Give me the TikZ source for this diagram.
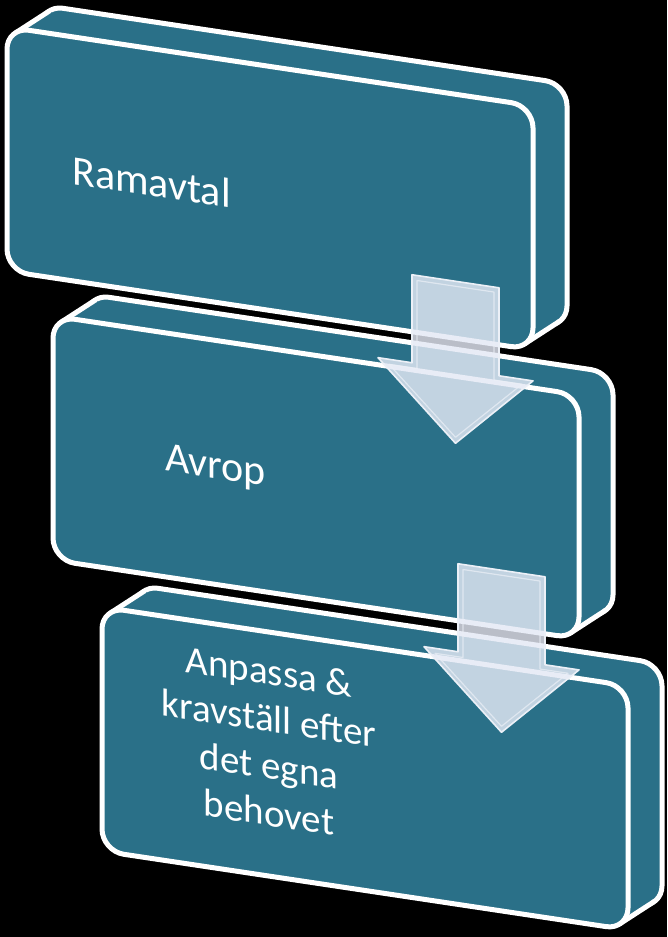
\documentclass[tikz,border=0pt]{standalone}
\usepackage{fontspec}
\setmainfont{Carlito}
\usetikzlibrary{positioning,calc,backgrounds}

\definecolor{stepteal}{RGB}{42,112,136}
\definecolor{arrowfill}{RGB}{228,233,245}
\definecolor{arrowline}{RGB}{236,240,247}

\begin{document}
\begin{tikzpicture}[
    x=1pt, y=1pt,
    face/.style={rectangle, draw=white, line width=5pt, rounded corners=22pt, fill=stepteal, minimum width=526pt, minimum height=244pt, inner sep=0pt, outer sep=0pt, anchor=north west},
    depth/.style={fill=stepteal},
    edge/.style={draw=white, line width=5pt, line cap=round},
    boxtext/.style={text=white, inner sep=0pt, align=center, font=\fontsize{42}{50}\selectfont},
    blockarrow/.style={fill=arrowfill, fill opacity=0.82, draw=arrowline, line width=1.6pt, line join=round},
    arrowbevel/.style={draw=arrowline, draw opacity=0.7, line width=1.2pt, line join=round}
]
    \useasboundingbox (0,0) rectangle (667,-937);
    \begin{scope}[on background layer]
        \fill[black] (0,0) rectangle (667,-937);
    \end{scope}

    % the three steps, slanted for the perspective look
    \foreach \stp/\sx/\sy in {ramavtal/7/27,avrop/53/316,anpassa/102/607} {
        \begin{scope}[shift={(\sx,-\sy)}, yslant=-0.15, transform shape]
            \node[face] (\stp back) at (34,27.1) {};
            \fill[depth] (8.3,-4.8) -- ++(34,27.1) -- (551.7,-212.1) -- (517.7,-239.2) -- cycle;
            \draw[edge] (8.3,-4.8) -- ++(34,27.1);
            \draw[edge] (517.7,-239.2) -- ++(34,27.1);
            \node[face] (\stp) at (0,0) {};
        \end{scope}
    }

    \begin{scope}[shift={(ramavtal.north west)}, yslant=-0.15, transform shape]
        \node[boxtext, anchor=west] (ramavtal text) at (65,-133) {Ramavtal};
    \end{scope}
    \begin{scope}[shift={(avrop.north west)}, yslant=-0.15, transform shape]
        \node[boxtext, anchor=west] (avrop text) at (112,-128) {Avrop};
    \end{scope}
    \begin{scope}[shift={(anpassa.north west)}, yslant=-0.15, transform shape]
        \node[boxtext, font=\fontsize{39}{47}\selectfont] (anpassa text) at (167,-110) {Anpassa \&\\kravställ efter\\det egna\\behovet};
    \end{scope}

    % arrows between the steps
    \foreach \src in {ramavtal,avrop} {
        \begin{scope}[shift={(\src.north west)}, yslant=-0.15]
            \draw[blockarrow] (405,-187) -- (492,-187) -- (492,-275) -- (526,-275) -- (448.5,-349) -- (371,-275) -- (405,-275) -- cycle;
            \draw[arrowbevel] (410,-192) -- (487,-192) -- (487,-280) -- (515,-280) -- (448.5,-343) -- (382,-280) -- (410,-280) -- cycle;
        \end{scope}
    }
\end{tikzpicture}
\end{document}
